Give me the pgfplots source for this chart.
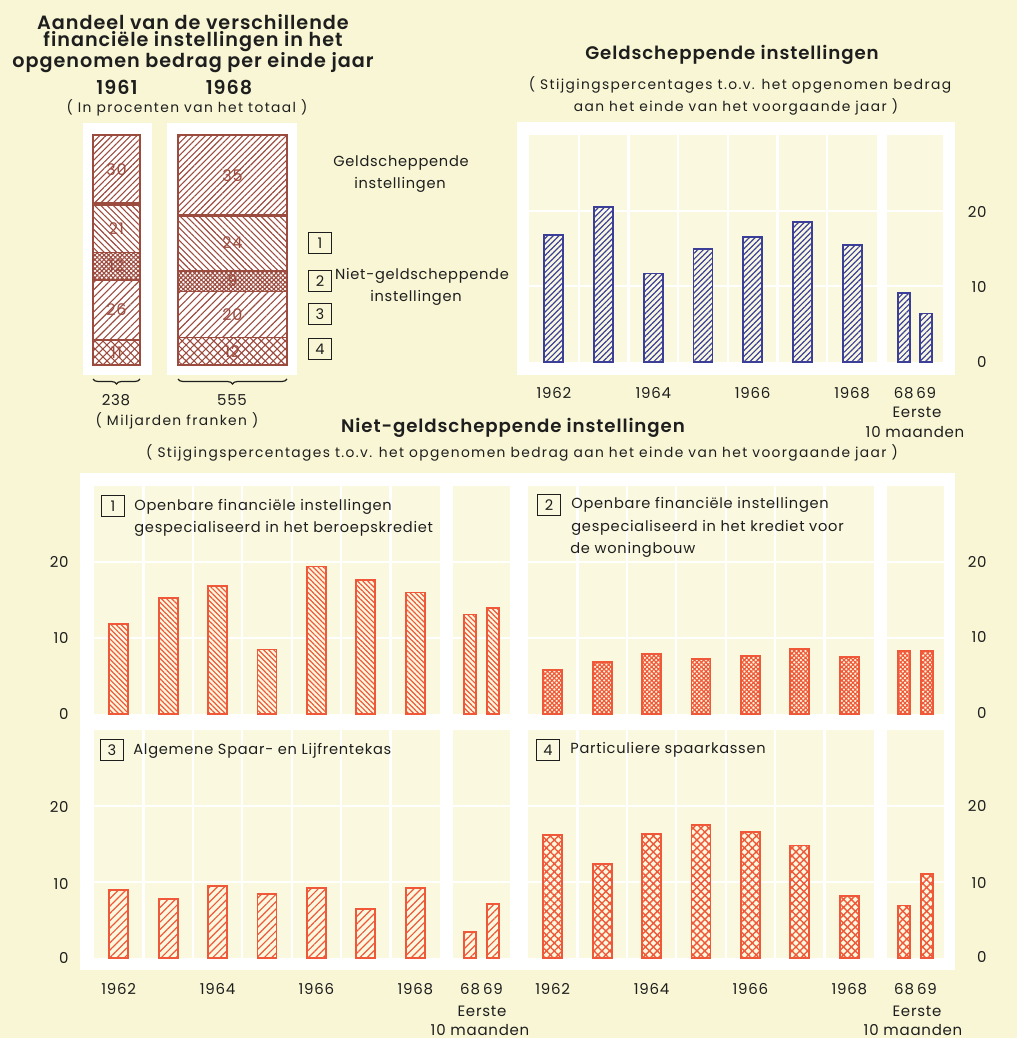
\documentclass[border=0pt]{standalone}
\usepackage{fontspec}
\setmainfont{Poppins}[LetterSpace=5]
\newfontfamily\titlefont{Poppins SemiBold}[LetterSpace=5]
\newfontfamily\widefont{Poppins}[LetterSpace=10]
\usepackage{pgfplots}
\pgfplotsset{compat=1.18}
\usetikzlibrary{patterns.meta,decorations.pathreplacing}
\definecolor{bgc}{HTML}{F8F6D4}
\definecolor{cellc}{HTML}{FAF9E0}
\definecolor{bluec}{HTML}{3B3F98}
\definecolor{redc}{HTML}{F0583A}
\definecolor{brownc}{HTML}{9C4B3F}
\definecolor{txt}{HTML}{1E1E1E}
\newcommand\ftitle{\titlefont\fontsize{9.6}{11}\selectfont}
\newcommand\fbig{\titlefont\fontsize{9.1}{11}\selectfont}
\newcommand\fsub{\widefont\fontsize{6.9}{8}\selectfont}
\newcommand\flab{\fontsize{7.3}{8.5}\selectfont}
\newcommand\ftick{\fontsize{7.5}{9}\selectfont}
\newcommand\fseg{\fontsize{8}{9}\selectfont}
\tikzset{segnum/.style={font=\fseg, text=brownc, inner sep=0pt}}
\pgfplotsset{
  panel/.style={scale only axis, ymin=0, ymax=30, height=114pt,
    axis line style={draw=none}, tick style={draw=none},
    major tick length=0pt, minor tick length=0pt,
    ytick={10,20}, yticklabels={}, ymajorgrids,
    grid style={white, line width=1.1pt},
    axis background/.style={fill=cellc},
    ybar, bar shift=0pt, clip=false,
    xticklabel style={yshift=-9pt, font=\ftick, text=txt}},
  mainp/.style={panel, width=173pt, xmin=-0.5, xmax=6.5, bar width=9.5pt,
    minor xtick={0.5,1.5,...,5.5}, xminorgrids,
    minor grid style={white, line width=1.1pt},
    xtick={0,1,2,3,4,5,6}, xticklabels={1962,,1964,,1966,,1968}},
  smallp/.style={panel, width=28.5pt, xmin=-0.75, xmax=1.75, bar width=6pt,
    xtick={0,1}, xticklabels={68,69}},
  nolab/.style={xticklabels={}},
  stk/.style={scale only axis, hide axis, ybar stacked, ymin=0, ymax=100,
    xmin=-0.5, xmax=0.5, height=115pt, clip=false},
  seg/.style={draw=brownc, line width=0.8pt, pattern color=brownc},
  bluebar/.style={draw=bluec, line width=0.9pt, pattern={Lines[angle=45,distance=2pt,line width=0.6pt]}, pattern color=bluec},
  p1bar/.style={draw=redc, line width=0.9pt, pattern={Lines[angle=-45,distance=1.8pt,line width=0.6pt]}, pattern color=redc},
  p2bar/.style={draw=redc, line width=0.9pt, pattern={Hatch[angle=45,distance=1.6pt,line width=0.6pt]}, pattern color=redc},
  p3bar/.style={draw=redc, line width=0.9pt, pattern={Lines[angle=45,distance=2.6pt,line width=0.6pt]}, pattern color=redc},
  p4bar/.style={draw=redc, line width=0.9pt, pattern={Hatch[angle=45,distance=2.8pt,line width=0.7pt]}, pattern color=redc},
}
\begin{document}
\begin{tikzpicture}
\begin{scope}[x=0.5pt,y=-0.5pt]
\fill[bgc] (0,0) rectangle (1017,1038);
\fill[white] (83,123) rectangle (152,375);
\fill[white] (167,123) rectangle (297,375);
\fill[white] (517,122) rectangle (955,375);
\fill[white] (80,473) rectangle (955,970);
\end{scope}

% ---- stacked bars (share of total, %)
\begin{axis}[stk, at={(46.5pt,-182.5pt)}, anchor=south west, width=23.5pt, bar width=23.5pt]
\addplot[seg, pattern={Hatch[angle=45,distance=2.8pt,line width=0.55pt]}] coordinates {(0,11)};
\addplot[seg, pattern={Lines[angle=45,distance=2.6pt,line width=0.55pt]}] coordinates {(0,26)};
\addplot[seg, pattern={Hatch[angle=45,distance=1.6pt,line width=0.55pt]}] coordinates {(0,12)};
\addplot[seg, pattern={Lines[angle=-45,distance=2.2pt,line width=0.55pt]}] coordinates {(0,21)};
\addplot[seg, pattern={Lines[angle=45,distance=2.2pt,line width=0.55pt]}] coordinates {(0,30)};
\draw[brownc, line width=1.8pt] (axis cs:-0.5,70) -- (axis cs:0.5,70);
\node[segnum] at (axis cs:0,5.5) {11};
\node[segnum] at (axis cs:0,24) {26};
\node[segnum] at (axis cs:0,43) {12};
\node[segnum] at (axis cs:0,59.5) {21};
\node[segnum] at (axis cs:0,85) {30};
\end{axis}
\begin{axis}[stk, at={(89pt,-182.5pt)}, anchor=south west, width=54.5pt, bar width=54.5pt]
\addplot[seg, pattern={Hatch[angle=45,distance=2.8pt,line width=0.55pt]}] coordinates {(0,12)};
\addplot[seg, pattern={Lines[angle=45,distance=2.6pt,line width=0.55pt]}] coordinates {(0,20)};
\addplot[seg, pattern={Hatch[angle=45,distance=1.6pt,line width=0.55pt]}] coordinates {(0,9)};
\addplot[seg, pattern={Lines[angle=-45,distance=2.2pt,line width=0.55pt]}] coordinates {(0,24)};
\addplot[seg, pattern={Lines[angle=45,distance=2.2pt,line width=0.55pt]}] coordinates {(0,35)};
\draw[brownc, line width=1.8pt] (axis cs:-0.5,65) -- (axis cs:0.5,65);
\node[segnum] at (axis cs:0,6) {12};
\node[segnum] at (axis cs:0,22) {20};
\node[segnum] at (axis cs:0,36.5) {9};
\node[segnum] at (axis cs:0,53) {24};
\node[segnum] at (axis cs:0,82.5) {35};
\end{axis}

% ---- top right
\begin{axis}[mainp, at={(264.5pt,-181pt)}, anchor=south west, height=113.5pt, width=174pt]
\addplot[bluebar] coordinates {(0,16.8) (1,20.5) (2,11.7) (3,14.9) (4,16.5) (5,18.5) (6,15.5)};
\end{axis}
\begin{axis}[smallp, at={(443.5pt,-181pt)}, anchor=south west, height=113.5pt, width=28pt]
\addplot[bluebar] coordinates {(0,9.1) (1,6.4)};
\end{axis}

% ---- panel 1
\begin{axis}[mainp, nolab, at={(47pt,-357pt)}, anchor=south west]
\addplot[p1bar] coordinates {(0,11.8) (1,15.3) (2,16.8) (3,8.5) (4,19.4) (5,17.6) (6,16.0)};
\end{axis}
\begin{axis}[smallp, nolab, at={(226.5pt,-357pt)}, anchor=south west]
\addplot[p1bar] coordinates {(0,13.1) (1,13.9)};
\end{axis}
% ---- panel 2
\begin{axis}[mainp, nolab, at={(264pt,-357pt)}, anchor=south west]
\addplot[p2bar] coordinates {(0,5.8) (1,6.8) (2,7.9) (3,7.2) (4,7.6) (5,8.6) (6,7.5)};
\end{axis}
\begin{axis}[smallp, nolab, at={(443.5pt,-357pt)}, anchor=south west]
\addplot[p2bar] coordinates {(0,8.3) (1,8.3)};
\end{axis}
% ---- panel 3
\begin{axis}[mainp, at={(47pt,-479pt)}, anchor=south west]
\addplot[p3bar] coordinates {(0,8.9) (1,7.8) (2,9.5) (3,8.4) (4,9.2) (5,6.4) (6,9.2)};
\end{axis}
\begin{axis}[smallp, at={(226.5pt,-479pt)}, anchor=south west]
\addplot[p3bar] coordinates {(0,3.4) (1,7.1)};
\end{axis}
% ---- panel 4
\begin{axis}[mainp, at={(264pt,-479pt)}, anchor=south west]
\addplot[p4bar] coordinates {(0,16.2) (1,12.4) (2,16.3) (3,17.5) (4,16.6) (5,14.8) (6,8.2)};
\end{axis}
\begin{axis}[smallp, at={(443.5pt,-479pt)}, anchor=south west]
\addplot[p4bar] coordinates {(0,6.9) (1,11.1)};
\end{axis}

% ---- texts
\begin{scope}[x=0.5pt,y=-0.5pt, every node/.style={text=txt, inner sep=0pt}]
\node[font=\ftitle] at (193,22) {Aandeel van de verschillende};
\node[font=\ftitle] at (193,42) {financiële instellingen in het};
\node[font=\ftitle] at (193,63) {opgenomen bedrag per einde jaar};
\node[font=\ftitle] at (117,87) {1961};
\node[font=\ftitle] at (229,87) {1968};
\node[font=\fsub] at (187,108) {( In procenten van het totaal )};
\node[font=\flab] at (401,163) {Geldscheppende};
\node[font=\flab] at (400,185) {instellingen};
\node[font=\flab] at (422,276) {Niet-geldscheppende};
\node[font=\flab] at (416,298) {instellingen};
\foreach \n/\yy in {1/243,2/281,3/314,4/349}
  \node[draw=txt, line width=0.6pt, minimum width=11.5pt, minimum height=10.5pt, font=\flab] at (320,\yy) {\n};
\node[font=\ftick] at (116,400) {238};
\node[font=\ftick] at (232,400) {555};
\node[font=\fsub] at (177,421) {( Miljarden franken )};

\node[font=\fbig] at (732,55) {Geldscheppende instellingen};
\node[font=\fsub] at (740,85) {( Stijgingspercentages t.o.v. het opgenomen bedrag};
\node[font=\fsub] at (736,107) {aan het einde van het voorgaande jaar )};
\node[font=\ftick] at (917,412) {Eerste};
\node[font=\ftick] at (915,432) {10 maanden};
\foreach \v/\yy in {20/212,10/287,0/362} \node[font=\ftick, anchor=east] at (987,\yy) {\v};

\node[font=\fbig] at (513,428) {Niet-geldscheppende instellingen};
\node[font=\fsub] at (522,453) {( Stijgingspercentages t.o.v. het opgenomen bedrag aan het einde van het voorgaande jaar )};

\node[draw=txt, line width=0.6pt, minimum width=11.5pt, minimum height=10.5pt, font=\flab] at (113,506) {1};
\node[font=\flab, anchor=west] at (134,507) {Openbare financiële instellingen};
\node[font=\flab, anchor=west] at (134,529) {gespecialiseerd in het beroepskrediet};
\node[draw=txt, line width=0.6pt, minimum width=11.5pt, minimum height=10.5pt, font=\flab] at (549,505) {2};
\node[font=\flab, anchor=west] at (571,505) {Openbare financiële instellingen};
\node[font=\flab, anchor=west] at (571,528) {gespecialiseerd in het krediet voor};
\node[font=\flab, anchor=west] at (570,550) {de woningbouw};
\node[draw=txt, line width=0.6pt, minimum width=11.5pt, minimum height=10.5pt, font=\flab] at (112,750) {3};
\node[font=\flab, anchor=west] at (133,751) {Algemene Spaar- en Lijfrentekas};
\node[draw=txt, line width=0.6pt, minimum width=11.5pt, minimum height=10.5pt, font=\flab] at (548,750) {4};
\node[font=\flab, anchor=west] at (570,750) {Particuliere spaarkassen};

\foreach \v/\yy in {20/562,10/638,0/714,20/807,10/884,0/958} \node[font=\ftick, anchor=east] at (69,\yy) {\v};
\foreach \v/\yy in {20/562,10/637,0/713,20/806,10/883,0/957} \node[font=\ftick, anchor=east] at (987,\yy) {\v};
\node[font=\ftick] at (482,1011) {Eerste};
\node[font=\ftick] at (480,1030) {10 maanden};
\node[font=\ftick] at (917,1011) {Eerste};
\node[font=\ftick] at (913,1030) {10 maanden};
\draw[decorate, decoration={brace, amplitude=2.5pt, mirror}, txt, line width=0.6pt] (93,379) -- (140,379);
\draw[decorate, decoration={brace, amplitude=2.5pt, mirror}, txt, line width=0.6pt] (178,379) -- (287,379);
\end{scope}
\end{tikzpicture}
\end{document}
